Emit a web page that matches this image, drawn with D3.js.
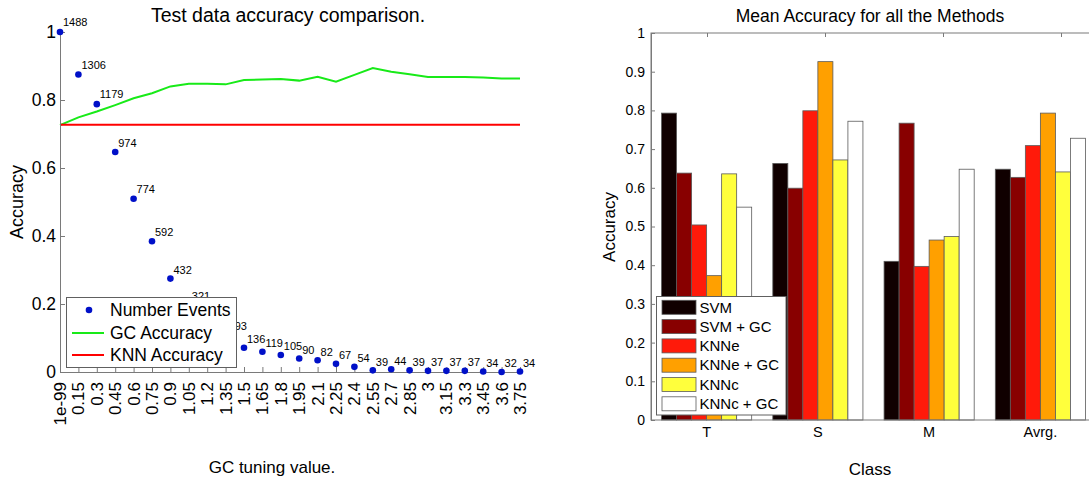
<!DOCTYPE html>
<html>
<head>
<meta charset="utf-8">
<script src="https://cdn.jsdelivr.net/npm/d3@7"></script>
<style>
  body { margin: 0; background: #fff; }
  svg { font-family: "Liberation Sans", Arial, Helvetica, sans-serif; }
</style>
</head>
<body>
<svg id="chart" width="1089" height="479"></svg>
<script>
// ---- left chart data ----
var gcTicks = ["1e-99", "0.15", "0.3", "0.45", "0.6", "0.75", "0.9", "1.05", "1.2", "1.35",
  "1.5", "1.65", "1.8", "1.95", "2.1", "2.25", "2.4", "2.55", "2.7", "2.85",
  "3", "3.15", "3.3", "3.45", "3.6", "3.75"];
var eventCounts = [1488, 1306, 1179, 974, 774, 592, 432, 321, 250, 193,
  136, 119, 105, 90, 82, 67, 54, 39, 44, 39, 37, 37, 37, 34, 32, 34];
var gcAccuracy = [0.726, 0.749, 0.766, 0.785, 0.805, 0.820, 0.840, 0.848, 0.848, 0.846,
  0.859, 0.860, 0.862, 0.857, 0.868, 0.854, 0.874, 0.894, 0.883, 0.876,
  0.868, 0.868, 0.868, 0.866, 0.863, 0.863];
var knnAccuracy = [0.727, 0.727, 0.727, 0.727, 0.727, 0.727, 0.727, 0.727, 0.727, 0.727,
  0.727, 0.727, 0.727, 0.727, 0.727, 0.727, 0.727, 0.727, 0.727, 0.727,
  0.727, 0.727, 0.727, 0.727, 0.727, 0.727];
var leftYTicks = [0, 0.2, 0.4, 0.6, 0.8, 1];

// ---- right chart data ----
var classes = ["T", "S", "M", "Avrg."];
var methods = ["SVM", "SVM + GC", "KNNe", "KNNe + GC", "KNNc", "KNNc + GC"];
var svm    = [0.793, 0.663, 0.410, 0.648];
var svmGc  = [0.638, 0.599, 0.767, 0.627];
var knne   = [0.504, 0.799, 0.397, 0.709];
var knneGc = [0.373, 0.926, 0.465, 0.793];
var knnc   = [0.636, 0.672, 0.474, 0.641];
var knncGc = [0.550, 0.772, 0.648, 0.728];
var rightYTicks = [0, 0.1, 0.2, 0.3, 0.4, 0.5, 0.6, 0.7, 0.8, 0.9, 1];

var methodColors = ["#100000", "#880000", "#ff1a0a", "#ffa000", "#ffff3c", "#ffffff"];
var axisGray = "#7a7a7a";

var svg = d3.select("#chart");

// ===================== LEFT CHART =====================
var L = { left: 60, right: 520, top: 32, bottom: 372 };

var x = d3.scalePoint().domain(gcTicks).range([L.left, L.right]);
var y = d3.scaleLinear().domain([0, 1]).range([L.bottom, L.top]);
// points: counts scaled between min and max; labels: counts scaled from 0 to max
var yPoint = d3.scaleLinear().domain(d3.extent(eventCounts)).range([L.bottom, L.top]);
var yLabel = d3.scaleLinear().domain([0, d3.max(eventCounts)]).range([L.bottom + 3, L.top - 6]);

var left = svg.append("g");

var line = d3.line()
  .x(function(d, i) { return x(gcTicks[i]); })
  .y(function(d) { return y(d); });

left.append("path")
  .datum(gcAccuracy)
  .attr("d", line)
  .attr("fill", "none")
  .attr("stroke", "#18ea18")
  .attr("stroke-width", 2);

left.append("path")
  .datum(knnAccuracy)
  .attr("d", line)
  .attr("fill", "none")
  .attr("stroke", "#ff0000")
  .attr("stroke-width", 2);

// axes
var xAxisL = left.append("g")
  .attr("transform", "translate(0," + L.bottom + ")")
  .call(d3.axisBottom(x).tickSizeInner(-5).tickSizeOuter(0).tickFormat(""));
var yAxisL = left.append("g")
  .attr("transform", "translate(" + L.left + ",0)")
  .call(d3.axisLeft(y).tickValues(leftYTicks).tickSizeInner(-5).tickSizeOuter(0)
    .tickPadding(4).tickFormat(d3.format("~g")));
[xAxisL, yAxisL].forEach(function(a) {
  a.selectAll("path, line").attr("stroke", axisGray);
});
yAxisL.selectAll("text")
  .attr("font-size", 17.5)
  .attr("fill", "#000")
  .attr("font-family", null);

// rotated x tick labels
left.append("g").selectAll("text")
  .data(gcTicks)
  .enter().append("text")
  .attr("transform", function(d) { return "translate(" + x(d) + "," + (L.bottom + 10) + ") rotate(-90)"; })
  .attr("dy", "0.35em")
  .attr("text-anchor", "end")
  .attr("font-size", 17)
  .text(function(d) { return d; });

// points
left.append("g").selectAll("circle")
  .data(eventCounts)
  .enter().append("circle")
  .attr("cx", function(d, i) { return x(gcTicks[i]); })
  .attr("cy", function(d) { return yPoint(d); })
  .attr("r", 3.3)
  .attr("fill", "#0010c8");

// count labels
left.append("g").selectAll("text")
  .data(eventCounts)
  .enter().append("text")
  .attr("x", function(d, i) { return x(gcTicks[i]) + 3; })
  .attr("y", function(d) { return yLabel(d); })
  .attr("font-size", 11)
  .text(function(d) { return d; });

// title & labels
left.append("text")
  .attr("x", 288).attr("y", 22)
  .attr("text-anchor", "middle")
  .attr("font-size", 19.5)
  .text("Test data accuracy comparison.");

left.append("text")
  .attr("x", 272).attr("y", 473)
  .attr("text-anchor", "middle")
  .attr("font-size", 17)
  .text("GC tuning value.");

left.append("text")
  .attr("transform", "translate(23,202) rotate(-90)")
  .attr("text-anchor", "middle")
  .attr("font-size", 18)
  .text("Accuracy");

// legend
var lg = left.append("g");
lg.append("rect")
  .attr("x", 66.5).attr("y", 297.5)
  .attr("width", 170).attr("height", 70)
  .attr("fill", "#fff")
  .attr("stroke", "#606060");
var legendRows = [
  { label: "Number Events", type: "dot", color: "#0010c8", y: 310 },
  { label: "GC Accuracy", type: "line", color: "#18ea18", y: 333 },
  { label: "KNN Accuracy", type: "line", color: "#ff0000", y: 355 }
];
legendRows.forEach(function(r) {
  if (r.type === "dot") {
    lg.append("circle").attr("cx", 89).attr("cy", r.y).attr("r", 3.3).attr("fill", r.color);
  } else {
    lg.append("line").attr("x1", 72).attr("x2", 104).attr("y1", r.y).attr("y2", r.y)
      .attr("stroke", r.color).attr("stroke-width", 2);
  }
  lg.append("text")
    .attr("x", 110).attr("y", r.y)
    .attr("dy", "0.35em")
    .attr("font-size", 17.5)
    .text(r.label);
});

// ===================== RIGHT CHART =====================
var R = { left: 651, right: 1096, top: 33, bottom: 420 };
var series = [svm, svmGc, knne, knneGc, knnc, knncGc];

var x0 = d3.scaleBand().domain(classes).range([R.left, R.right])
  .paddingInner(0.19).paddingOuter(0.095);
var x1 = d3.scaleBand().domain(methods).range([0, x0.bandwidth()]);
var yR = d3.scaleLinear().domain([0, 1]).range([R.bottom, R.top]);
var color = d3.scaleOrdinal().domain(methods).range(methodColors);
// ticks on the top edge sit on a slightly different spacing than the groups
var xTop = d3.scaleLinear().domain([0.5, 4.5]).range([648, 1120]);

var right = svg.append("g");

var groups = right.append("g").selectAll("g")
  .data(classes)
  .enter().append("g")
  .attr("transform", function(c) { return "translate(" + x0(c) + ",0)"; });

groups.selectAll("rect")
  .data(function(c, ci) {
    return methods.map(function(m, mi) { return { method: m, value: series[mi][ci] }; });
  })
  .enter().append("rect")
  .attr("x", function(d) { return x1(d.method); })
  .attr("y", function(d) { return yR(d.value); })
  .attr("width", x1.bandwidth())
  .attr("height", function(d) { return R.bottom - yR(d.value); })
  .attr("fill", function(d) { return color(d.method); })
  .attr("stroke", "#5a5a5a")
  .attr("stroke-width", 0.8);

// box
right.append("rect")
  .attr("x", R.left).attr("y", R.top)
  .attr("width", R.right - R.left).attr("height", R.bottom - R.top)
  .attr("fill", "none")
  .attr("stroke", axisGray);

var yAxisR = right.append("g")
  .attr("transform", "translate(" + R.left + ",0)")
  .call(d3.axisLeft(yR).tickValues(rightYTicks).tickSizeInner(-4).tickSizeOuter(0)
    .tickPadding(6).tickFormat(d3.format("~g")));
yAxisR.selectAll("path, line").attr("stroke", axisGray);
yAxisR.selectAll("text").attr("font-size", 14).attr("fill", "#000").attr("font-family", null);

right.append("g")
  .attr("transform", "translate(0," + R.top + ")")
  .call(d3.axisTop(xTop).tickValues([1, 2, 3, 4]).tickSizeInner(-4).tickSizeOuter(0).tickFormat(""))
  .call(function(g) { g.select(".domain").remove(); })
  .selectAll("line").attr("stroke", axisGray);

right.append("g").selectAll("text")
  .data(classes)
  .enter().append("text")
  .attr("x", function(c) { return x0(c) + x0.bandwidth() / 2; })
  .attr("y", 437)
  .attr("text-anchor", "middle")
  .attr("font-size", 14.5)
  .text(function(c) { return c; });

right.append("text")
  .attr("x", 870).attr("y", 21.5)
  .attr("text-anchor", "middle")
  .attr("font-size", 17.5)
  .text("Mean Accuracy for all the Methods");

right.append("text")
  .attr("x", 870).attr("y", 475)
  .attr("text-anchor", "middle")
  .attr("font-size", 17)
  .text("Class");

right.append("text")
  .attr("transform", "translate(615,227) rotate(-90)")
  .attr("text-anchor", "middle")
  .attr("font-size", 17)
  .text("Accuracy");

// legend
var rg = right.append("g");
rg.append("rect")
  .attr("x", 656.5).attr("y", 296.5)
  .attr("width", 129.5).attr("height", 118.5)
  .attr("fill", "#fff")
  .attr("stroke", "#606060");
methods.forEach(function(m, i) {
  var cy = 307.3 + i * 19.3;
  rg.append("rect")
    .attr("x", 662).attr("y", cy - 7)
    .attr("width", 34).attr("height", 14)
    .attr("fill", color(m))
    .attr("stroke", "#5a5a5a")
    .attr("stroke-width", 0.8);
  rg.append("text")
    .attr("x", 699.5).attr("y", cy)
    .attr("dy", "0.35em")
    .attr("font-size", 15)
    .text(m);
});
</script>
</body>
</html>
